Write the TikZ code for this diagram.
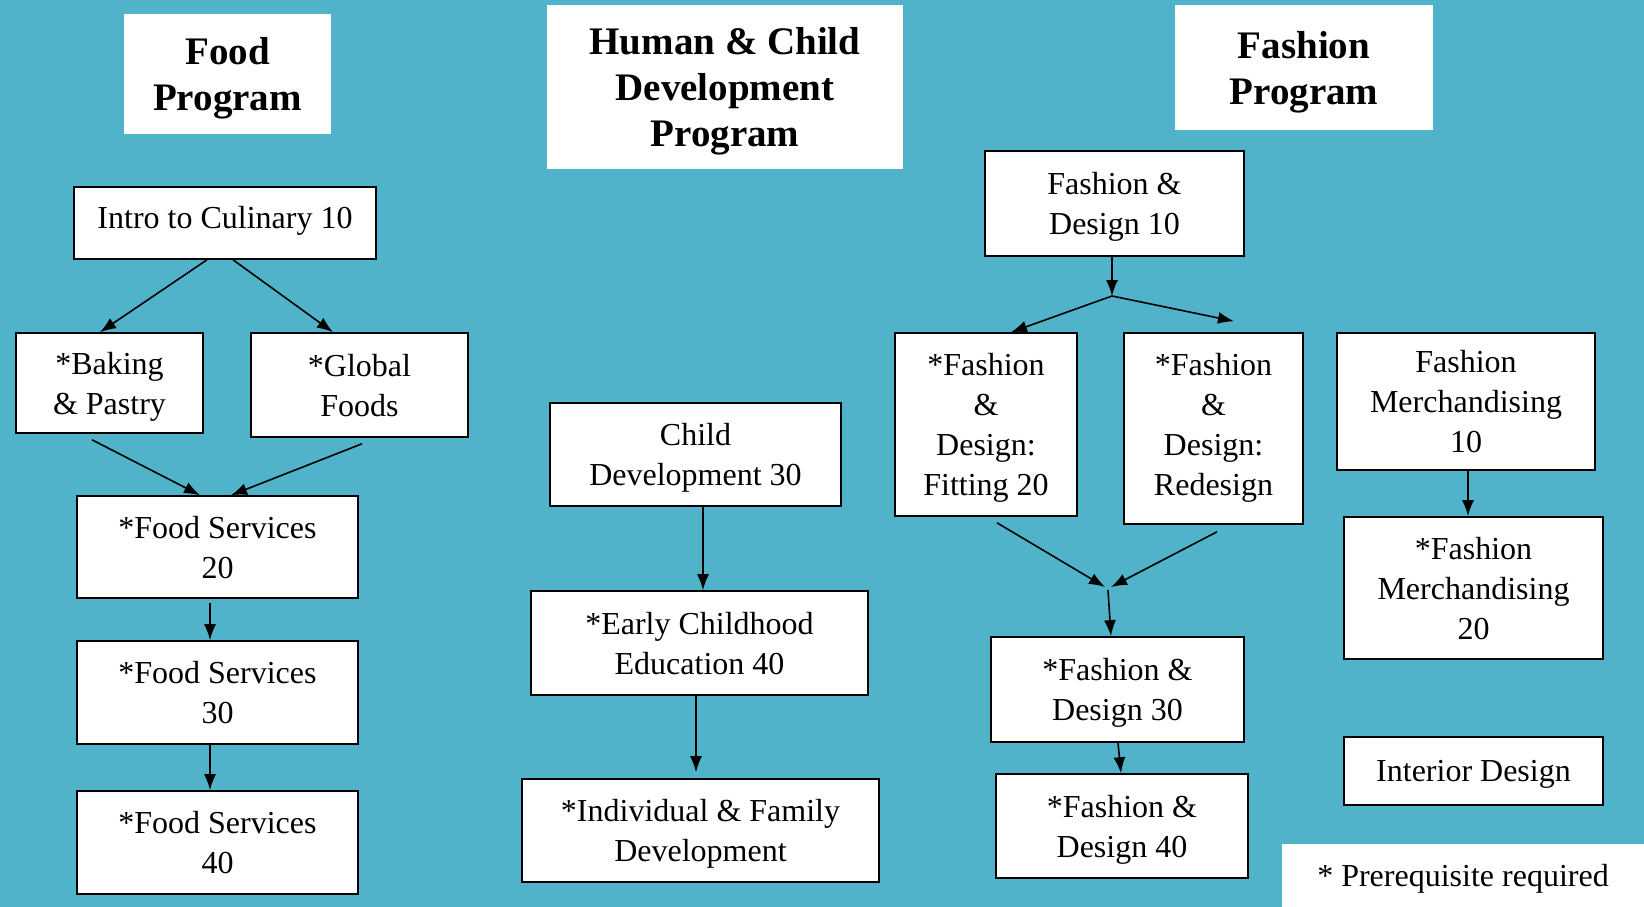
\documentclass[tikz,border=0pt]{standalone}
\usepackage{fontspec}
\setmainfont{Liberation Serif}
\usetikzlibrary{arrows.meta}
\definecolor{bgteal}{RGB}{80,179,201}
\begin{document}
\begin{tikzpicture}[x=1pt,y=-1pt,>={Latex[length=16pt,width=12pt]},
	title/.style={fill=white,align=center,inner sep=0pt,text depth=0pt,font=\fontsize{39}{46}\selectfont\bfseries},
	course/.style={draw=black,line width=1.6pt,fill=white,align=center,inner sep=0pt,text depth=0pt,font=\fontsize{32}{40}\selectfont},
	link/.style={->,line width=1.6pt}]
	\fill[bgteal] (0,0) rectangle (1644,907);
	\useasboundingbox (0,0) rectangle (1644,907);
	% program headings
	\node[title,minimum width=207pt,minimum height=120pt] (foodT) at (227.5,74) {Food\\Program};
	\node[title,minimum width=356pt,minimum height=164pt] (hcdT) at (725,87) {Human \& Child\\Development\\Program};
	\node[title,minimum width=258pt,minimum height=125pt,text depth=-4pt] (fashT) at (1304,67.5) {Fashion\\Program};
	% food program
	\node[course,minimum width=302pt,minimum height=72pt,text depth=12pt] (intro) at (225,223) {Intro to Culinary 10};
	\node[course,minimum width=187pt,minimum height=100pt] (baking) at (109.5,383) {*Baking\\\& Pastry};
	\node[course,minimum width=217pt,minimum height=104pt] (global) at (359.5,385) {*Global\\Foods};
	\node[course,minimum width=281pt,minimum height=102pt] (fs20) at (217.5,547) {*Food Services\\20};
	\node[course,minimum width=281pt,minimum height=103pt] (fs30) at (217.5,692.5) {*Food Services\\30};
	\node[course,minimum width=281pt,minimum height=103pt] (fs40) at (217.5,842.5) {*Food Services\\40};
	\draw[link] ([xshift=-18pt]intro.south)--([xshift=-9.5pt]baking.north);
	\draw[link] ([xshift=8pt]intro.south)--([xshift=-26.5pt]global.north);
	\draw[link] ([xshift=-17.5pt,yshift=-6pt]baking.south)--([xshift=-17.5pt]fs20.north);
	\draw[link] ([xshift=2.5pt,yshift=-6pt]global.south)--([xshift=13.5pt]fs20.north);
	\draw[link] ([xshift=-7.5pt,yshift=-4pt]fs20.south)--([xshift=-7.5pt]fs30.north);
	\draw[link] ([xshift=-7.5pt]fs30.south)--([xshift=-7.5pt]fs40.north);
	% human and child development
	\node[course,minimum width=291pt,minimum height=103pt] (cd30) at (695.5,454.5) {Child\\Development 30};
	\node[course,minimum width=337pt,minimum height=104pt] (ece40) at (699.5,643) {*Early Childhood\\Education 40};
	\node[course,minimum width=357pt,minimum height=103pt] (ifd) at (700.5,830.5) {*Individual \& Family\\Development};
	\draw[link] ([xshift=7.5pt]cd30.south)--([xshift=3.5pt]ece40.north);
	\draw[link] ([xshift=-3.5pt]ece40.south)--([xshift=-4.5pt,yshift=6pt]ifd.north);
	% fashion program
	\node[course,minimum width=259pt,minimum height=105pt] (fd10) at (1114.5,203.5) {Fashion \&\\Design 10};
	\node[course,minimum width=182pt,minimum height=183pt] (fit20) at (986,424.5) {*Fashion\\\&\\Design:\\Fitting 20};
	\node[course,minimum width=179pt,minimum height=191pt,text depth=8pt] (redes) at (1213.5,428.5) {*Fashion\\\&\\Design:\\Redesign};
	\node[course,minimum width=258pt,minimum height=137pt] (fm10) at (1466,401.5) {Fashion\\Merchandising\\10};
	\node[course,minimum width=259pt,minimum height=142pt] (fm20) at (1473.5,588) {*Fashion\\Merchandising\\20};
	\node[course,minimum width=253pt,minimum height=105pt] (fd30) at (1117.5,689.5) {*Fashion \&\\Design 30};
	\node[course,minimum width=252pt,minimum height=104pt] (fd40) at (1122,826) {*Fashion \&\\Design 40};
	\node[course,minimum width=259pt,minimum height=68pt] (interior) at (1473.5,771) {Interior Design};
	\coordinate (fsplit) at (1112,296);
	\coordinate (fmerge) at (1108,587);
	\draw[link] ([xshift=-2.5pt]fd10.south)--(fsplit);
	\draw[link] (fsplit)--([xshift=25pt]fit20.north);
	\draw[link] (fsplit)--([xshift=20.5pt,yshift=11pt]redes.north);
	\draw[link] ([xshift=11pt,yshift=-6pt]fit20.south)--([xshift=-3pt]fmerge);
	\draw[link] ([xshift=3.5pt,yshift=-7pt]redes.south)--([xshift=3pt]fmerge);
	\draw[link] ([yshift=-3pt]fmerge)--([xshift=-6.5pt]fd30.north);
	\draw[link] ([xshift=0.5pt]fd30.south)--([xshift=-1pt]fd40.north);
	\draw[link] ([xshift=2pt]fm10.south)--([xshift=-5.5pt]fm20.north);
	% note
	\node[fill=white,minimum width=362pt,minimum height=63pt,inner sep=0pt,text depth=-8pt,font=\fontsize{32}{40}\selectfont] (note) at (1463,875.5) {* Prerequisite required};
\end{tikzpicture}
\end{document}
